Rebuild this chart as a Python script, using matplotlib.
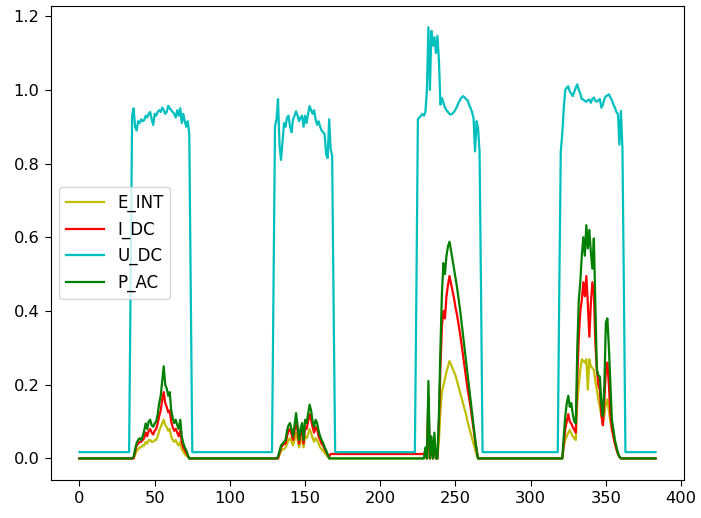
import numpy as np
import matplotlib
matplotlib.use("Agg")
import matplotlib.pyplot as plt

# 4 days of 15 min samples
N_POINTS = 384
labels = ["E_INT", "I_DC", "U_DC", "P_AC"]
colors = ["y", "r", "c", "g"]

# night levels
e_int_night = 0.0
p_ac_night = 0.0
i_dc_night = 0.0
u_dc_night = 0.017
# I_DC sits a little above zero in the night between day 2 and day 3
i_dc_gap = (167, 230)
i_dc_gap_level = 0.012

# ---- U_DC daytime segments (start index, values)
u_dc_day1_start = 34
u_dc_day1 = [0.47, 0.93, 0.95, 0.90, 0.89, 0.915, 0.91, 0.92, 0.915, 0.918,
             0.93, 0.925, 0.935, 0.94, 0.92, 0.905, 0.935, 0.93, 0.94, 0.945,
             0.94, 0.952, 0.945, 0.935, 0.94, 0.957, 0.95, 0.945, 0.94, 0.935,
             0.925, 0.945, 0.93, 0.95, 0.91, 0.935, 0.915, 0.90, 0.915, 0.88,
             0.45]
u_dc_day2_start = 129
u_dc_day2 = [0.45, 0.90, 0.92, 0.975, 0.85, 0.81, 0.86, 0.91, 0.90, 0.925,
             0.93, 0.90, 0.885, 0.92, 0.93, 0.942, 0.93, 0.915, 0.925, 0.93,
             0.90, 0.93, 0.91, 0.935, 0.956, 0.945, 0.935, 0.945, 0.92, 0.905,
             0.915, 0.90, 0.89, 0.885, 0.88, 0.825, 0.815, 0.92, 0.84, 0.82,
             0.40]
u_dc_day3_start = 224
u_dc_day3 = [0.45, 0.92, 0.925, 0.93, 0.935, 0.93, 0.94, 1.0,
             1.17, 1.0, 1.16, 1.12, 1.143, 1.10, 1.147, 1.08,
             0.96, 0.978, 0.965, 0.952, 0.945, 0.94, 0.935, 0.933,
             0.936, 0.94, 0.947, 0.955, 0.965, 0.972, 0.979, 0.983,
             0.98, 0.975, 0.972, 0.96, 0.951, 0.94, 0.924, 0.833,
             0.915, 0.897, 0.833, 0.45]
u_dc_day4_start = 319
u_dc_day4 = [0.45, 0.833, 0.88, 0.95, 1.0, 1.006, 1.01, 0.995, 0.99, 0.983,
             0.995, 1.006, 1.015, 1.0, 0.99, 0.975, 0.974, 0.97, 0.968, 0.972,
             0.974, 0.965, 0.975, 0.979, 0.97, 0.968, 0.972, 0.975, 0.952, 0.96,
             0.975, 0.983, 0.985, 0.988, 0.98, 0.972, 0.96, 0.952, 0.94, 0.935,
             0.851, 0.943, 0.842, 0.45]

# ---- P_AC daytime segments
p_ac_day1_start = 36
p_ac_day1 = [0.005, 0.025, 0.042, 0.05, 0.055, 0.05, 0.06, 0.075, 0.095, 0.08,
             0.10, 0.105, 0.09, 0.086, 0.095, 0.10, 0.12, 0.15, 0.17, 0.21,
             0.25, 0.20, 0.19, 0.17, 0.18, 0.13, 0.11, 0.096, 0.105, 0.09,
             0.08, 0.105, 0.06, 0.042, 0.03, 0.022, 0.01]
p_ac_day2_start = 132
p_ac_day2 = [0.005, 0.02, 0.035, 0.04, 0.045, 0.05, 0.075, 0.09, 0.096, 0.08,
             0.06, 0.09, 0.123, 0.09, 0.05, 0.08, 0.096, 0.05, 0.105, 0.096,
             0.12, 0.146, 0.13, 0.10, 0.086, 0.105, 0.096, 0.075, 0.06, 0.05,
             0.042, 0.03, 0.022, 0.01]
p_ac_day3_start = 230
p_ac_day3 = [0.03, 0.0, 0.21, 0.0, 0.06, 0.0, 0.07, 0.0, 0.0, 0.12,
             0.30, 0.45, 0.53, 0.50, 0.55, 0.575, 0.588, 0.565, 0.54, 0.515,
             0.49, 0.465, 0.435, 0.405, 0.37, 0.335, 0.30, 0.265, 0.23, 0.195,
             0.16, 0.125, 0.09, 0.055, 0.025]
p_ac_day4_start = 322
p_ac_day4 = [0.06, 0.115, 0.15, 0.17, 0.14, 0.15, 0.12, 0.10, 0.095, 0.30,
             0.43, 0.48, 0.55, 0.60, 0.55, 0.633, 0.57, 0.62, 0.56, 0.515,
             0.597, 0.424, 0.241, 0.225, 0.222, 0.149, 0.115, 0.20, 0.369, 0.38,
             0.30, 0.20, 0.105, 0.078, 0.05, 0.032, 0.015, 0.005]

# ---- I_DC daytime segments
i_dc_day1_start = 37
i_dc_day1 = [0.02, 0.035, 0.04, 0.045, 0.045, 0.05, 0.055, 0.07, 0.06,
             0.075, 0.08, 0.07, 0.065, 0.075, 0.08, 0.095, 0.115, 0.13, 0.16,
             0.18, 0.15, 0.14, 0.125, 0.13, 0.10, 0.085, 0.075, 0.08, 0.07,
             0.06, 0.075, 0.045, 0.03, 0.022, 0.015, 0.007]
i_dc_day2_start = 133
i_dc_day2 = [0.015, 0.03, 0.035, 0.04, 0.04, 0.06, 0.075, 0.08, 0.065,
             0.05, 0.075, 0.10, 0.075, 0.04, 0.065, 0.08, 0.04, 0.085, 0.08,
             0.10, 0.12, 0.105, 0.085, 0.07, 0.085, 0.08, 0.06, 0.05,
             0.04, 0.035, 0.025, 0.018, 0.01, 0.005]
i_dc_day3_start = 230
i_dc_day3 = [0.02, 0.0, 0.17, 0.0, 0.05, 0.0, 0.05, 0.0, 0.0, 0.10,
             0.25, 0.36, 0.40, 0.38, 0.44, 0.47, 0.495, 0.475, 0.455, 0.435,
             0.41, 0.39, 0.365, 0.34, 0.31, 0.28, 0.25, 0.22, 0.19, 0.165,
             0.14, 0.11, 0.08, 0.05, 0.025]
i_dc_day4_start = 322
i_dc_day4 = [0.04, 0.08, 0.10, 0.12, 0.10, 0.095, 0.085, 0.077, 0.07, 0.22,
             0.33, 0.40, 0.43, 0.478, 0.44, 0.495, 0.42, 0.33, 0.42, 0.478,
             0.45, 0.314, 0.241, 0.20, 0.186, 0.12, 0.09, 0.16, 0.24, 0.26,
             0.20, 0.12, 0.08, 0.06, 0.04, 0.025, 0.012, 0.004]

# ---- E_INT daytime segments
e_int_day1_start = 37
e_int_day1 = [0.01, 0.02, 0.025, 0.03, 0.03, 0.035, 0.035, 0.045, 0.04,
              0.05, 0.05, 0.045, 0.045, 0.05, 0.05, 0.06, 0.075, 0.085, 0.095,
              0.105, 0.09, 0.085, 0.075, 0.08, 0.06, 0.05, 0.045, 0.05, 0.04,
              0.035, 0.045, 0.025, 0.018, 0.012, 0.008, 0.004]
e_int_day2_start = 133
e_int_day2 = [0.01, 0.02, 0.025, 0.025, 0.03, 0.04, 0.05, 0.055, 0.045,
              0.035, 0.05, 0.07, 0.05, 0.03, 0.045, 0.055, 0.03, 0.06, 0.055,
              0.065, 0.08, 0.07, 0.055, 0.045, 0.055, 0.05, 0.04, 0.03,
              0.025, 0.02, 0.015, 0.01, 0.005]
e_int_day3_start = 230
e_int_day3 = [0.01, 0.0, 0.12, 0.0, 0.03, 0.0, 0.03, 0.0, 0.0, 0.05,
              0.13, 0.18, 0.20, 0.215, 0.235, 0.25, 0.264, 0.255, 0.245, 0.235,
              0.225, 0.21, 0.195, 0.18, 0.165, 0.15, 0.135, 0.12, 0.10, 0.085,
              0.07, 0.055, 0.04, 0.025, 0.01]
e_int_day4_start = 322
e_int_day4 = [0.03, 0.05, 0.06, 0.07, 0.077, 0.068, 0.06, 0.055, 0.05, 0.15,
              0.20, 0.24, 0.269, 0.265, 0.26, 0.269, 0.186, 0.269, 0.25, 0.245,
              0.24, 0.21, 0.186, 0.16, 0.14, 0.115, 0.095, 0.12, 0.15, 0.16,
              0.13, 0.10, 0.08, 0.06, 0.04, 0.025, 0.015, 0.005]


def build_series(night, segments):
    s = np.full(N_POINTS, night)
    for start, vals in segments:
        s[start:start + len(vals)] = vals
    return s


e_int = build_series(e_int_night, [(e_int_day1_start, e_int_day1), (e_int_day2_start, e_int_day2),
                                   (e_int_day3_start, e_int_day3), (e_int_day4_start, e_int_day4)])
i_dc = build_series(i_dc_night, [(i_dc_day1_start, i_dc_day1), (i_dc_day2_start, i_dc_day2),
                                 (i_dc_day3_start, i_dc_day3), (i_dc_day4_start, i_dc_day4)])
i_dc[i_dc_gap[0]:i_dc_gap[1]] = i_dc_gap_level
u_dc = build_series(u_dc_night, [(u_dc_day1_start, u_dc_day1), (u_dc_day2_start, u_dc_day2),
                                 (u_dc_day3_start, u_dc_day3), (u_dc_day4_start, u_dc_day4)])
p_ac = build_series(p_ac_night, [(p_ac_day1_start, p_ac_day1), (p_ac_day2_start, p_ac_day2),
                                 (p_ac_day3_start, p_ac_day3), (p_ac_day4_start, p_ac_day4)])

fig = plt.figure(figsize=(7.01, 5.18), dpi=100)
ax = fig.add_axes([0.0723, 0.0734, 0.9039, 0.9156])

for series, lab, col in zip([e_int, i_dc, u_dc, p_ac], labels, colors):
    ax.plot(series, color=col, label=lab, linewidth=1.6)

ax.tick_params(labelsize=11.7, length=4.5)
ax.legend(loc="center left", fontsize=12, handlelength=2.3)

fig.savefig("out.png", dpi=100)
